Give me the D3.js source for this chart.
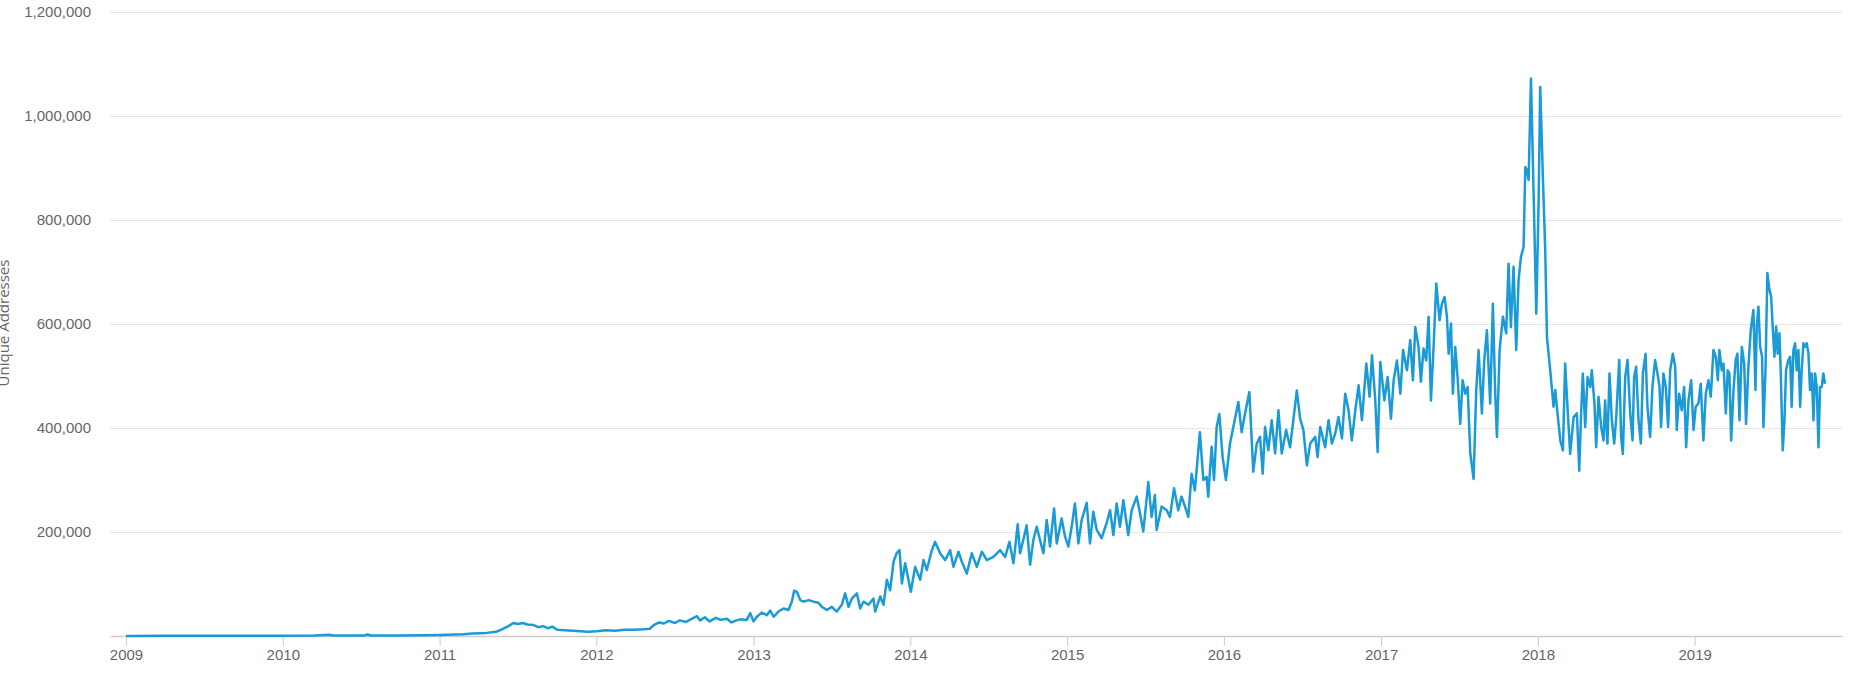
<!DOCTYPE html>
<html>
<head>
<meta charset="utf-8">
<script src="https://d3js.org/d3.v7.min.js"></script>
<style>
  body { margin: 0; background: #fff; }
  svg { display: block; font-family: "Open Sans", sans-serif; }
</style>
</head>
<body>
<div id="chart"></div>
<script>
// unique addresses per day: [decimal year, thousands]
const early = [
  [2009.00,0.2],[2009.25,0.4],[2009.50,0.3],[2009.75,0.5],[2010.00,0.6],[2010.20,0.8],[2010.30,2.5],[2010.32,0.9],
  [2010.52,0.9],[2010.54,3.0],[2010.56,1.0],[2010.75,1.2],[2010.90,1.5],
  [2011.00,2],[2011.15,3.5],[2011.21,5],[2011.30,6],[2011.36,8],[2011.40,13],[2011.44,19],[2011.47,25],[2011.50,23],
  [2011.53,25],[2011.56,22],[2011.60,21],[2011.63,17],[2011.66,19],[2011.69,15],[2011.72,18],[2011.75,12],[2011.80,11],
  [2011.85,10],[2011.90,9],[2011.95,8],
  [2012.00,9],[2012.06,11],[2012.12,10],[2012.18,12],[2012.24,12],[2012.30,13],[2012.34,14],[2012.37,22],[2012.40,26],
  [2012.43,24],[2012.46,29],[2012.50,25],[2012.53,30],[2012.57,27],[2012.60,32],[2012.64,38],[2012.66,30],[2012.69,36],
  [2012.72,28],[2012.76,35],[2012.79,31],[2012.83,33],[2012.86,26],[2012.89,30],[2012.915,32],[2012.957,31],[2012.979,44]
];
const y2013 = [
  [2013.000,28],[2013.021,37],[2013.053,45],[2013.085,40],[2013.106,49],[2013.128,37],[2013.159,47],[2013.191,53],
  [2013.223,50],[2013.244,66],[2013.259,87],[2013.276,85],[2013.298,69],[2013.319,66],[2013.351,69],[2013.383,66],
  [2013.414,64],[2013.436,56],[2013.468,50],[2013.499,56],[2013.531,47],[2013.563,60],[2013.584,82],[2013.606,56],
  [2013.627,72],[2013.659,82],[2013.680,53],[2013.701,66],[2013.733,60],[2013.765,72],[2013.776,47],[2013.808,76],
  [2013.829,60],[2013.850,108],[2013.871,88],[2013.893,143],[2013.914,160],[2013.931,165],[2013.946,101],[2013.967,140],
  [2013.988,108]
];
const y2014 = [
  [2014.003,85],[2014.031,133],[2014.063,108],[2014.084,146],[2014.105,127],[2014.137,165],[2014.158,181],[2014.190,159],
  [2014.222,146],[2014.254,165],[2014.275,133],[2014.307,162],[2014.328,143],[2014.360,120],[2014.392,159],[2014.424,133],
  [2014.456,162],[2014.488,146],[2014.530,152],[2014.573,165],[2014.605,152],[2014.632,181],[2014.658,140],[2014.685,215],
  [2014.700,159],[2014.721,185],[2014.742,213],[2014.764,137],[2014.785,185],[2014.806,210],[2014.827,185],[2014.849,159],
  [2014.870,223],[2014.891,172],[2014.917,245],[2014.934,178],[2014.965,226],[2014.987,191]
];
const y2015 = [
  [2015.008,172],[2015.029,210],[2015.050,255],[2015.072,178],[2015.093,223],[2015.125,256],[2015.146,178],[2015.167,239],
  [2015.189,204],[2015.220,188],[2015.252,217],[2015.274,242],[2015.295,194],[2015.316,255],[2015.337,210],[2015.359,261],
  [2015.390,194],[2015.412,242],[2015.444,268],[2015.465,236],[2015.486,201],[2015.518,296],[2015.539,229],[2015.560,271],
  [2015.571,204],[2015.603,249],[2015.635,242],[2015.656,229],[2015.682,284],[2015.709,242],[2015.730,268],[2015.752,249],
  [2015.773,229],[2015.794,312],[2015.815,280],[2015.847,392],[2015.869,300],[2015.890,306],[2015.900,268],[2015.922,364],
  [2015.937,300],[2015.954,402],[2015.971,427],[2015.992,344]
];
const y2016 = [
  [2016.013,300],[2016.039,370],[2016.060,402],[2016.092,450],[2016.113,392],[2016.134,427],[2016.162,469],[2016.187,316],
  [2016.209,370],[2016.230,383],[2016.247,312],[2016.262,402],[2016.283,357],[2016.304,415],[2016.326,351],[2016.347,434],
  [2016.368,351],[2016.396,396],[2016.421,363],[2016.443,418],[2016.464,472],[2016.485,418],[2016.506,396],[2016.528,328],
  [2016.549,370],[2016.581,383],[2016.596,344],[2016.613,402],[2016.644,363],[2016.666,415],[2016.687,370],[2016.708,389],
  [2016.729,421],[2016.751,380],[2016.772,466],[2016.793,434],[2016.814,376],[2016.836,434],[2016.857,482],[2016.878,415],
  [2016.906,524],[2016.927,460],[2016.942,540],[2016.963,453],[2016.978,354],[2016.995,527]
];
const y2017 = [
  [2017.021,453],[2017.042,498],[2017.063,418],[2017.080,492],[2017.101,530],[2017.123,466],[2017.140,550],[2017.165,511],
  [2017.186,569],[2017.203,492],[2017.218,594],[2017.239,556],[2017.254,489],[2017.271,553],[2017.288,530],[2017.303,614],
  [2017.318,453],[2017.335,556],[2017.352,678],[2017.373,607],[2017.388,639],[2017.405,652],[2017.420,614],[2017.431,543],
  [2017.446,601],[2017.458,466],[2017.473,556],[2017.488,498],[2017.505,408],[2017.520,492],[2017.537,466],[2017.552,479],
  [2017.569,351],[2017.590,302],[2017.607,472],[2017.622,550],[2017.643,428],[2017.658,530],[2017.675,588],[2017.696,447],
  [2017.713,639],[2017.728,466],[2017.739,383],[2017.756,550],[2017.777,614],[2017.798,582],[2017.813,716],[2017.828,594],
  [2017.845,710],[2017.862,550],[2017.877,684],[2017.892,729],[2017.909,748],[2017.920,902],[2017.930,896],[2017.941,877],
  [2017.956,1072],[2017.973,851],[2017.990,620]
];
const y2018 = [
  [2018.005,838],[2018.015,1056],[2018.032,883],[2018.047,742],[2018.058,575],[2018.079,511],[2018.100,441],[2018.111,473],
  [2018.121,441],[2018.143,376],[2018.160,357],[2018.174,524],[2018.189,441],[2018.206,350],[2018.228,421],[2018.249,428],
  [2018.264,318],[2018.276,428],[2018.287,505],[2018.302,402],[2018.317,498],[2018.334,479],[2018.344,511],[2018.361,447],
  [2018.372,363],[2018.387,460],[2018.404,402],[2018.419,376],[2018.429,453],[2018.444,370],[2018.457,505],[2018.472,415],
  [2018.487,370],[2018.500,421],[2018.519,531],[2018.531,383],[2018.542,350],[2018.557,498],[2018.572,531],[2018.589,428],
  [2018.604,376],[2018.614,498],[2018.627,518],[2018.642,415],[2018.657,370],[2018.670,505],[2018.687,543],[2018.699,441],
  [2018.716,383],[2018.731,479],[2018.748,531],[2018.763,505],[2018.776,479],[2018.786,402],[2018.801,505],[2018.816,479],
  [2018.831,402],[2018.844,511],[2018.861,543],[2018.876,518],[2018.886,396],[2018.901,466],[2018.918,434],[2018.933,479],
  [2018.946,363],[2018.961,453],[2018.978,492],[2018.993,396]
];
const y2019 = [
  [2019.007,441],[2019.024,447],[2019.039,485],[2019.056,376],[2019.071,466],[2019.088,492],[2019.103,460],[2019.120,550],
  [2019.135,537],[2019.148,492],[2019.158,550],[2019.173,511],[2019.184,524],[2019.199,428],[2019.211,511],[2019.222,505],
  [2019.233,376],[2019.248,473],[2019.262,531],[2019.273,543],[2019.286,415],[2019.301,556],[2019.316,524],[2019.328,408],
  [2019.343,518],[2019.358,588],[2019.375,627],[2019.388,473],[2019.396,595],[2019.407,633],[2019.418,556],[2019.430,537],
  [2019.439,402],[2019.452,511],[2019.464,698],[2019.477,666],[2019.488,653],[2019.498,595],[2019.509,537],[2019.520,595],
  [2019.530,543],[2019.541,582],[2019.549,511],[2019.562,357],[2019.573,415],[2019.583,511],[2019.598,531],[2019.609,537],
  [2019.619,441],[2019.630,550],[2019.641,563],[2019.651,511],[2019.662,550],[2019.673,441],[2019.683,511],[2019.694,563],
  [2019.704,556],[2019.715,563],[2019.726,543],[2019.736,473],[2019.747,505],[2019.758,415],[2019.768,505],[2019.779,479],
  [2019.790,363],[2019.800,479],[2019.811,479],[2019.821,505],[2019.832,485]
];
const yTicks = [200000, 400000, 600000, 800000, 1000000, 1200000];
const yTitle = "Unique Addresses";

function toDate(y) {
    const yr = Math.floor(y),
          a = Date.UTC(yr, 0, 1),
          b = Date.UTC(yr + 1, 0, 1);
    return new Date(a + (y - yr) * (b - a));
}

const W = 1851, H = 686,
      plot = {left: 110, right: 1842, top: 12, bottom: 636};

const data = [].concat(early, y2013, y2014, y2015, y2016, y2017, y2018, y2019)
    .map(d => ({date: toDate(d[0]), value: d[1] * 1000}));

const x = d3.scaleUtc()
    .domain([toDate(2008.898), toDate(2019.94)])
    .range([plot.left, plot.right]);
const y = d3.scaleLinear()
    .domain([0, 1200000])
    .range([plot.bottom, plot.top]);

const svg = d3.select("#chart").append("svg")
    .attr("width", W)
    .attr("height", H);

// y axis with grid lines
const gy = svg.append("g")
    .attr("transform", `translate(${plot.left},0)`)
    .call(d3.axisLeft(y)
        .tickValues(yTicks)
        .tickSize(-(plot.right - plot.left))
        .tickPadding(19)
        .tickFormat(d3.format(",")));
gy.select(".domain").remove();
gy.selectAll(".tick line").attr("stroke", "#e6e6e6").attr("shape-rendering", "crispEdges");
gy.selectAll(".tick text").attr("fill", "#666").style("font-size", "15px");

// x axis
const gx = svg.append("g")
    .attr("transform", `translate(0,${plot.bottom})`)
    .call(d3.axisBottom(x)
        .ticks(d3.utcYear.every(1))
        .tickFormat(d3.utcFormat("%Y"))
        .tickSize(10)
        .tickSizeOuter(0)
        .tickPadding(3));
gx.select(".domain").attr("stroke", "#ccc").attr("stroke-width", 1.5);
gx.selectAll(".tick line").attr("stroke", "#ccc");
gx.selectAll(".tick text").attr("fill", "#666").style("font-size", "15px");

svg.append("text")
    .attr("transform", "translate(9,323) rotate(-90)")
    .attr("text-anchor", "middle")
    .attr("fill", "#666")
    .style("font-size", "15px")
    .text(yTitle);

const line = d3.line()
    .x(d => x(d.date))
    .y(d => y(d.value));

svg.append("path")
    .datum(data)
    .attr("fill", "none")
    .attr("stroke", "#1a9ad6")
    .attr("stroke-width", 2.5)
    .attr("stroke-linejoin", "round")
    .attr("d", line);
</script>
</body>
</html>
